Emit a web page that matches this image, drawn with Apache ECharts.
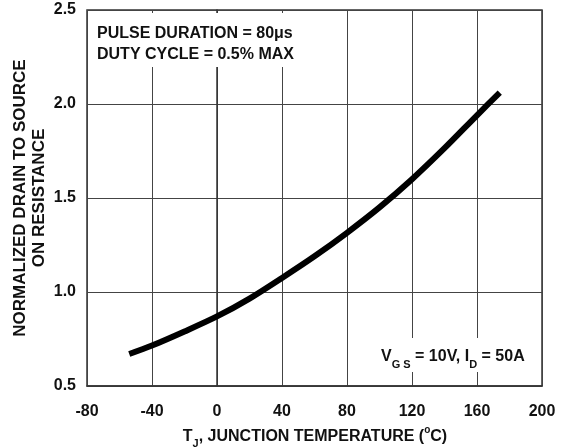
<!DOCTYPE html>
<html>
<head>
<meta charset="utf-8">
<script src="https://cdn.jsdelivr.net/npm/echarts@6/dist/echarts.min.js"></script>
<style>
html,body{margin:0;padding:0;background:#fff;}
#c{width:563px;height:448px;}
</style>
</head>
<body>
<div id="c"></div>
<script>
// Junction temperature (°C)
var temps = [-54, -40, -20, 0, 20, 40, 60, 80, 100, 120, 140, 160, 174];
// Normalized drain-to-source on resistance
var rdsOn = [0.67, 0.715, 0.79, 0.87, 0.965, 1.075, 1.19, 1.315, 1.45, 1.60, 1.765, 1.94, 2.06];
var xTicks = {min: -80, max: 200, interval: 40};
var yTicks = {min: 0.5, max: 2.5, interval: 0.5};

var FONT = '"Liberation Sans", Arial, sans-serif';
var chart = echarts.init(document.getElementById('c'));
var data = temps.map(function (t, i) { return [t, rdsOn[i]]; });

chart.setOption({
  animation: false,
  backgroundColor: '#fff',
  grid: {left: 87, right: 21, top: 10, bottom: 62, show: true, borderColor: '#333', borderWidth: 1.5, containLabel: false},
  xAxis: {
    type: 'value', min: xTicks.min, max: xTicks.max, interval: xTicks.interval,
    axisLine: {show: true, onZero: false, lineStyle: {color: '#333', width: 1.5}},
    axisTick: {show: false},
    splitLine: {show: true, lineStyle: {color: '#444', width: 1}},
    axisLabel: {margin: 18, color: '#111', fontFamily: FONT, fontWeight: 'bold', fontSize: 16}
  },
  yAxis: {
    type: 'value', min: yTicks.min, max: yTicks.max, interval: yTicks.interval,
    axisLine: {show: true, lineStyle: {color: '#333', width: 1.5}},
    axisTick: {show: false},
    splitLine: {show: true, lineStyle: {color: '#444', width: 1}},
    axisLabel: {margin: 11, color: '#111', fontFamily: FONT, fontWeight: 'bold', fontSize: 16,
      formatter: function (v) { return v.toFixed(1); }}
  },
  series: [{
    type: 'line', data: data, smooth: 0.3, symbol: 'none',
    lineStyle: {color: '#000', width: 6, cap: 'butt'}, z: 5
  }],
  graphic: [
    {type: 'rect', z: 50, shape: {x: 89, y: 13, width: 212, height: 54}, style: {fill: '#fff'}},
    {type: 'text', z: 51, x: 97, y: 23, style: {
      text: 'PULSE DURATION = 80μs\nDUTY CYCLE = 0.5% MAX',
      font: 'bold 16px ' + FONT, fill: '#111', lineHeight: 21, verticalAlign: 'top', align: 'left'}},
    {type: 'rect', z: 50, shape: {x: 377, y: 338, width: 154, height: 34}, style: {fill: '#fff'}},
    {type: 'text', z: 51, x: 381, y: 357, style: {
      text: '{m|V}{s|G S}{m| = 10V, I}{s|D}{m| = 50A}',
      verticalAlign: 'middle', align: 'left',
      rich: {
        m: {font: 'bold 16px ' + FONT, fill: '#111', lineHeight: 26, verticalAlign: 'middle'},
        s: {font: 'bold 11px ' + FONT, fill: '#111', lineHeight: 26, verticalAlign: 'bottom'}
      }}},
    {type: 'text', z: 51, x: 315, y: 437, style: {
      text: '{m|T}{s|J}{m|, JUNCTION TEMPERATURE (}{p|o}{m|C)}',
      verticalAlign: 'middle', align: 'center',
      rich: {
        m: {font: 'bold 16px ' + FONT, fill: '#111', lineHeight: 24, verticalAlign: 'middle'},
        s: {font: 'bold 11px ' + FONT, fill: '#111', lineHeight: 24, verticalAlign: 'bottom'},
        p: {font: 'bold 10px ' + FONT, fill: '#111', lineHeight: 24, verticalAlign: 'top'}
      }}},
    {type: 'text', z: 51, x: 30, y: 198, rotation: Math.PI / 2, style: {
      text: 'NORMALIZED DRAIN TO SOURCE\nON RESISTANCE',
      font: 'bold 17px ' + FONT, fill: '#111', lineHeight: 19, align: 'center', verticalAlign: 'middle'}}
  ]
});
</script>
</body>
</html>
